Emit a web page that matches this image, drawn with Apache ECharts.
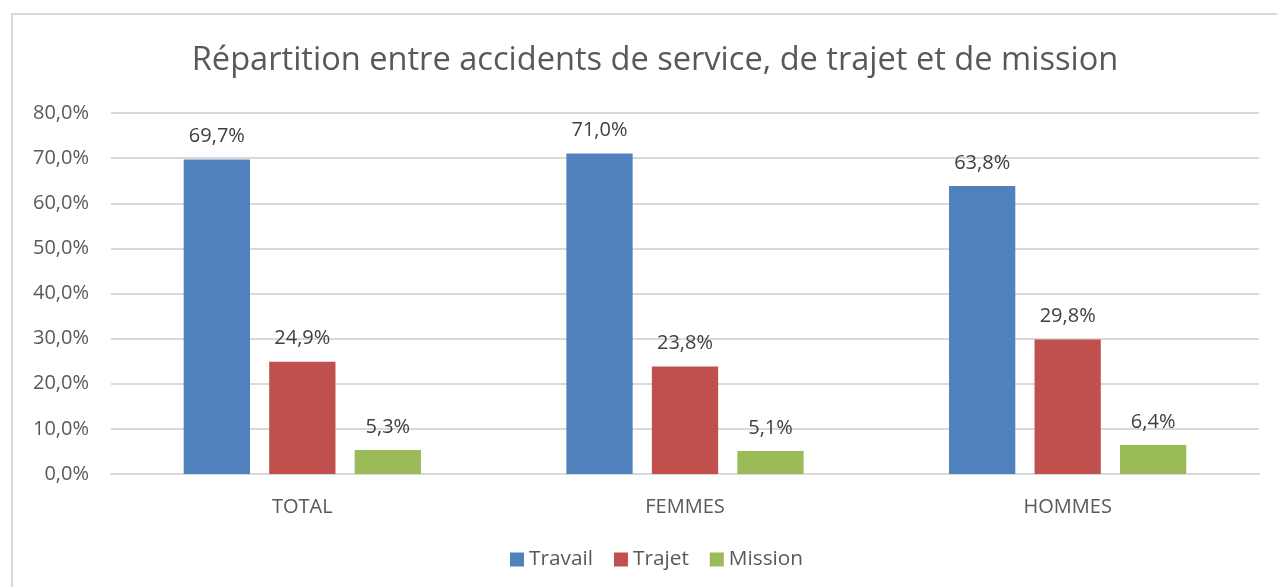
<!DOCTYPE html>
<html>
<head>
<meta charset="utf-8">
<script src="https://cdn.jsdelivr.net/npm/echarts@6/dist/echarts.min.js"></script>
<style>
  html, body { margin: 0; padding: 0; background: #fff; }
  #frame { position: absolute; left: 11px; top: 13px; width: 1300px; height: 600px;
           border: 2px solid #d9d9d9; box-sizing: border-box; }
  #chart { position: absolute; left: 0; top: 0; width: 1277px; height: 587px; }
</style>
</head>
<body>
<div id="frame"></div>
<div id="chart"></div>
<script>
  var categories = ['TOTAL', 'FEMMES', 'HOMMES'];
  var travail = [69.7, 71.0, 63.8];
  var trajet = [24.9, 23.8, 29.8];
  var mission = [5.3, 5.1, 6.4];
  var seriesNames = ['Travail', 'Trajet', 'Mission'];
  var colors = ['#4f81bd', '#c0504d', '#9bbb59'];

  var fontName = '"Open Sans", sans-serif';
  var chart = echarts.init(document.getElementById('chart'));

  function fmt(v) {
    return v.toFixed(1).replace('.', ',') + '%';
  }

  function makeSeries(name, values, color) {
    return {
      name: name,
      type: 'bar',
      data: values,
      itemStyle: { color: color },
      barGap: '29%',
      barCategoryGap: '38%',
      label: {
        show: true,
        position: 'top',
        distance: 13,
        color: '#404040',
        fontSize: 20,
        fontFamily: fontName,
        formatter: function (p) { return fmt(p.value); }
      }
    };
  }

  var option = {
    animation: false,
    color: colors,
    title: {
      text: 'Répartition entre accidents de service, de trajet et de mission',
      left: 650,
      textAlign: 'center',
      top: 39,
      textStyle: { color: '#595959', fontSize: 32.6, fontWeight: 'normal', fontFamily: fontName }
    },
    legend: {
      bottom: 12,
      left: 505,
      itemWidth: 14,
      itemHeight: 14,
      itemGap: 21,
      icon: 'rect',
      textStyle: { color: '#595959', fontSize: 20.8, fontFamily: fontName },
      data: seriesNames
    },
    grid: { left: 111, right: 18, top: 113, bottom: 113 },
    xAxis: {
      type: 'category',
      data: categories,
      axisTick: { show: false },
      axisLine: { lineStyle: { color: '#d9d9d9', width: 2 } },
      axisLabel: { color: '#595959', fontSize: 20, fontFamily: fontName, margin: 23 }
    },
    yAxis: {
      type: 'value',
      min: 0,
      max: 80,
      interval: 10,
      axisLine: { show: false },
      axisTick: { show: false },
      splitLine: { lineStyle: { color: '#d9d9d9', width: 2 } },
      axisLabel: {
        color: '#595959', fontSize: 20, fontFamily: fontName, margin: 22,
        formatter: function (v) { return fmt(v); }
      }
    },
    series: [
      makeSeries(seriesNames[0], travail, colors[0]),
      makeSeries(seriesNames[1], trajet, colors[1]),
      makeSeries(seriesNames[2], mission, colors[2])
    ]
  };

  chart.setOption(option);
  window.addEventListener('resize', chart.resize);
</script>
</body>
</html>
